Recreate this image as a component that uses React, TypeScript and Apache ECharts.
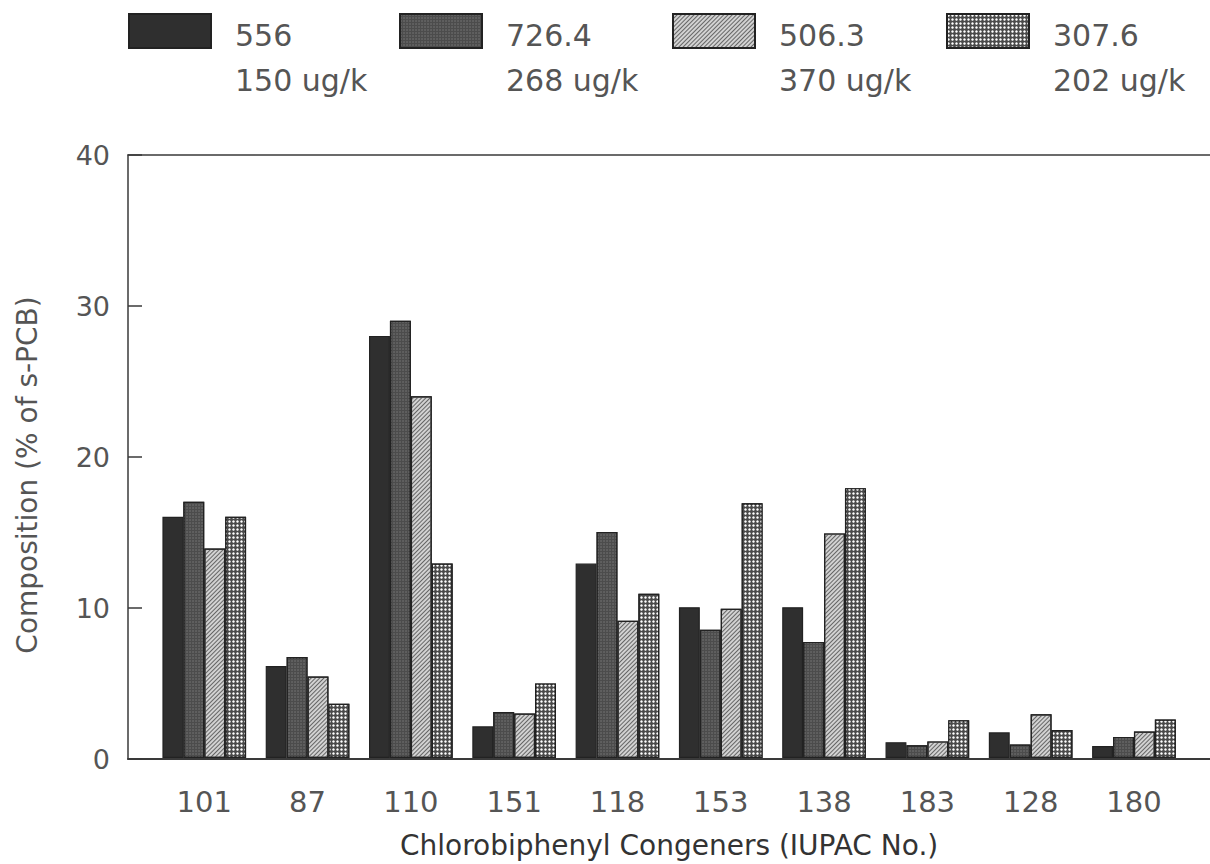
import React, { useEffect, useRef } from "react";
import * as echarts from "echarts";

const categories = ["101", "87", "110", "151", "118", "153", "138", "183", "128", "180"];
const seriesNames = ["556\n150 ug/k", "726.4\n268 ug/k", "506.3\n370 ug/k", "307.6\n202 ug/k"];
const s1 = [16, 6.1, 28, 2.1, 12.9, 10, 10, 1.05, 1.7, 0.8];
const s2 = [17, 6.7, 29, 3.05, 15, 8.5, 7.7, 0.85, 0.9, 1.4];
const s3 = [13.9, 5.4, 24, 2.95, 9.1, 9.9, 14.9, 1.1, 2.9, 1.75];
const s4 = [16, 3.6, 12.9, 4.95, 10.9, 16.9, 17.9, 2.5, 1.85, 2.55];
const yTicks = [0, 10, 20, 30, 40];

const FONT = "DejaVu Sans";
const TXT = "#555";
const LINE = "#3a3a3a";

export default function App() {
  const ref = useRef<HTMLDivElement>(null);
  useEffect(() => {
    if (!ref.current) return;
    const chart = echarts.init(ref.current, null, { renderer: "svg" });
    const styles = [
      { color: "#2f2f2f" },
      {
        color: "#4c4c4c",
        decal: { symbol: "circle", symbolSize: 0.7, color: "rgba(150,150,150,0.6)", dashArrayX: [2, 1], dashArrayY: [2, 1] },
      },
      {
        color: "#d2d2d2",
        decal: { symbol: "rect", symbolSize: 1, color: "#666666", dashArrayX: [1, 0], dashArrayY: [1, 2], rotation: -Math.PI / 4 },
      },
      {
        color: "#4a4a4a",
        decal: { symbol: "circle", symbolSize: 0.85, color: "#ffffff", dashArrayX: [3, 1], dashArrayY: [3, 1] },
      },
    ];
    const data = [s1, s2, s3, s4];
    const legendLefts = [128, 399, 672, 946];
    const legendTextGap = 107;
    chart.setOption({
      animation: false,
      backgroundColor: "#fff",
      textStyle: { fontFamily: FONT },
      legend: seriesNames.map((n, i) => ({
        data: [n],
        left: legendLefts[i],
        top: 13,
        padding: 0,
        icon: "rect",
        itemWidth: 82,
        itemHeight: 34,
        selectedMode: false,
        formatter: () => "",
      })),
      graphic: seriesNames.map((n, i) => ({
        type: "text",
        left: legendLefts[i] + legendTextGap,
        top: 13,
        silent: true,
        style: {
          text: n,
          fontFamily: FONT,
          fontSize: 30,
          lineHeight: 45,
          fill: TXT,
        },
      })),
      grid: [
        { left: 128, right: 0, top: 155, bottom: 105, containLabel: false },
        { left: 152.6, right: 24.4, top: 155, bottom: 105, containLabel: false },
      ],
      xAxis: [
        {
          gridIndex: 0,
          type: "value",
          min: 0,
          max: 1,
          axisLine: { show: true, onZero: false, lineStyle: { color: LINE, width: 2 } },
          axisTick: { show: false },
          axisLabel: { show: false },
          splitLine: { show: false },
        },
        {
          gridIndex: 0,
          type: "value",
          position: "top",
          min: 0,
          max: 1,
          axisLine: { show: true, onZero: false, lineStyle: { color: LINE, width: 1.5 } },
          axisTick: { show: false },
          axisLabel: { show: false },
          splitLine: { show: false },
        },
        {
          gridIndex: 1,
          type: "category",
          data: categories,
          axisLine: { show: false },
          axisTick: { show: false },
          axisLabel: { fontFamily: FONT, fontSize: 29, color: TXT, margin: 29 },
          name: "Chlorobiphenyl Congeners (IUPAC No.)",
          nameLocation: "middle",
          nameGap: 73,
          nameTextStyle: { fontFamily: FONT, fontSize: 28, color: "#333" },
        },
      ],
      yAxis: [
        {
          gridIndex: 0,
          type: "value",
          min: yTicks[0],
          max: yTicks[yTicks.length - 1],
          interval: 10,
          axisLine: { show: true, onZero: false, lineStyle: { color: LINE, width: 1.5 } },
          axisTick: { show: true, inside: true, length: 14, lineStyle: { color: LINE, width: 1.5 } },
          axisLabel: { fontFamily: FONT, fontSize: 27, color: TXT, margin: 18 },
          splitLine: { show: false },
          name: "Composition (% of s-PCB)",
          nameLocation: "middle",
          nameGap: 87,
          nameTextStyle: { fontFamily: FONT, fontSize: 28, color: TXT, padding: [0, 36, 0, 0] },
        },
        {
          gridIndex: 1,
          type: "value",
          min: 0,
          max: 40,
          interval: 10,
          show: false,
        },
      ],
      series: data.map((d, i) => ({
        name: seriesNames[i],
        type: "bar",
        xAxisIndex: 2,
        yAxisIndex: 1,
        data: d,
        barGap: "0%",
        barCategoryGap: "19%",
        itemStyle: { ...styles[i], borderColor: "#222", borderWidth: 1.2 },
        emphasis: { disabled: true },
      })),
    });
    return () => chart.dispose();
  }, []);
  return (
    <div
      ref={ref}
      style={{ position: "absolute", left: 0, top: 0, width: 1210, height: 864 }}
    />
  );
}
